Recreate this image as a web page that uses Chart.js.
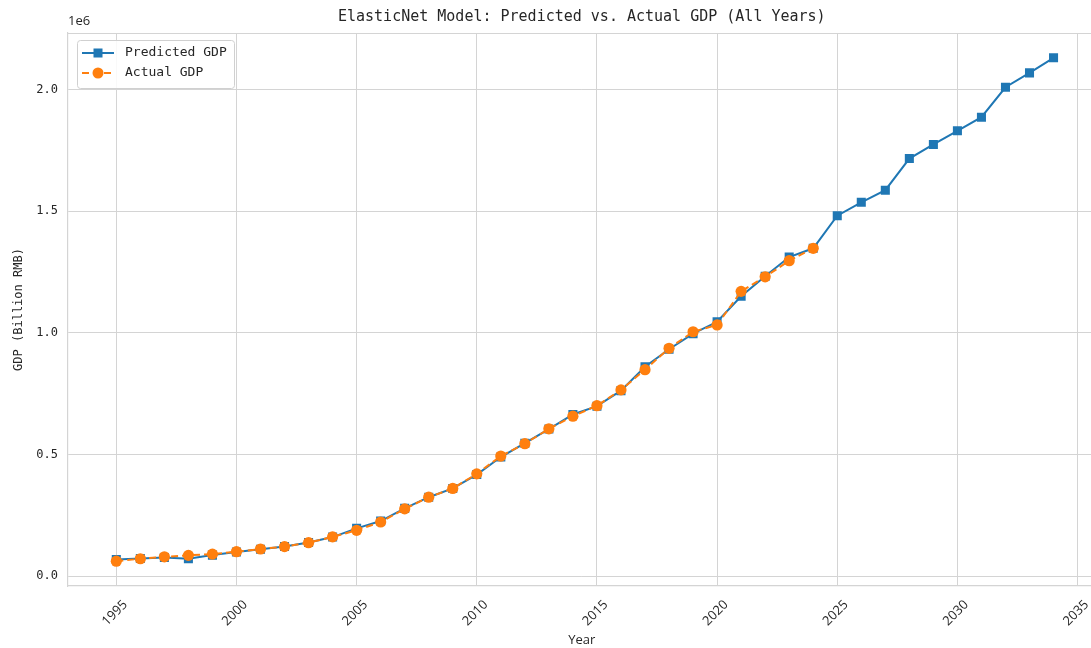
<!DOCTYPE html>
<html>
<head>
<meta charset="utf-8">
<script src="https://cdn.jsdelivr.net/npm/chart.js@4.4.1/dist/chart.umd.min.js"></script>
<style>
  html, body { margin: 0; padding: 0; background: #fff; overflow: hidden; }
  #wrap { width: 1102px; height: 648px; }
</style>
</head>
<body>
<div id="wrap"><canvas id="gdpChart" width="1102" height="648"></canvas></div>
<script>
// ===== DATA =====
const years = [1995, 1996, 1997, 1998, 1999, 2000, 2001, 2002, 2003, 2004,
  2005, 2006, 2007, 2008, 2009, 2010, 2011, 2012, 2013, 2014,
  2015, 2016, 2017, 2018, 2019, 2020, 2021, 2022, 2023, 2024,
  2025, 2026, 2027, 2028, 2029, 2030, 2031, 2032, 2033, 2034];

const predictedGdp = [68000, 72000, 76000, 71000, 86000, 99000, 110000, 121000, 138000, 160000,
  196000, 226000, 278000, 324000, 360000, 417000, 489000, 546000, 604000, 664000,
  698000, 762000, 860000, 932000, 996000, 1045000, 1150000, 1232000, 1311000, 1347000,
  1481000, 1536000, 1586000, 1716000, 1774000, 1830000, 1886000, 2009000, 2068000, 2130000];

const actualGdp = [61000, 71000, 79000, 85000, 90000, 100000, 111000, 121000, 137000, 161000,
  188000, 222000, 276000, 324000, 360000, 420000, 493000, 544000, 605000, 657000,
  700000, 765000, 848000, 936000, 1004000, 1032000, 1170000, 1230000, 1296000, 1347000];

const yTicks = [0, 500000, 1000000, 1500000, 2000000];
const xTicks = [1995, 2000, 2005, 2010, 2015, 2020, 2025, 2030, 2035];

const titleText = 'ElasticNet Model: Predicted vs. Actual GDP (All Years)';
const legendItems = ['Predicted GDP', 'Actual GDP'];

const BLUE = '#1f77b4';
const ORANGE = '#ff7f0e';
const GRID = '#d4d4d4';
const INK = '#262626';
const MONO = '"DejaVu Sans Mono", monospace';
const SANS = '"Open Sans", "DejaVu Sans", sans-serif';

const predictedPts = years.map((y, i) => ({ x: y, y: predictedGdp[i] }));
const actualPts = actualGdp.map((v, i) => ({ x: years[i], y: v }));

// ===== EXTRA DRAWING (title, offset text, frame, legend) =====
function drawMarker(ctx, kind, x, y, color) {
  ctx.fillStyle = color;
  if (kind === 'rect') {
    ctx.fillRect(x - 4.5, y - 4.5, 9, 9);
  } else {
    ctx.beginPath();
    ctx.arc(x, y, 5.5, 0, Math.PI * 2);
    ctx.fill();
  }
}

const decorations = {
  id: 'decorations',
  beforeDatasetsDraw(chart) {
    const { ctx, chartArea } = chart;
    ctx.save();
    ctx.strokeStyle = GRID;
    ctx.lineWidth = 1.2;
    ctx.beginPath();
    ctx.moveTo(chartArea.left, chartArea.top + 0.5);
    ctx.lineTo(chartArea.right, chartArea.top + 0.5);
    ctx.stroke();
    ctx.restore();
  },
  afterDraw(chart) {
    const { ctx, chartArea } = chart;
    ctx.save();

    // title over the plot area
    ctx.fillStyle = INK;
    ctx.font = '15px ' + MONO;
    ctx.textAlign = 'center';
    ctx.textBaseline = 'middle';
    ctx.fillText(titleText, (chartArea.left + chartArea.right) / 2, 17);

    // axis multiplier
    ctx.font = '13px ' + SANS;
    ctx.textAlign = 'left';
    ctx.fillText('1e6', chartArea.left, 21);

    // legend box
    const bx = 77, by = 40, bw = 157, bh = 48;
    ctx.fillStyle = 'rgba(255,255,255,0.85)';
    ctx.strokeStyle = '#d0d0d0';
    ctx.lineWidth = 1;
    ctx.beginPath();
    ctx.roundRect(bx + 0.5, by + 0.5, bw, bh, 3);
    ctx.fill();
    ctx.stroke();

    const rows = [
      { label: legendItems[0], color: BLUE, marker: 'rect', dash: [], y: by + 13 },
      { label: legendItems[1], color: ORANGE, marker: 'circle', dash: [7, 4], y: by + 33 }
    ];
    rows.forEach(r => {
      ctx.strokeStyle = r.color;
      ctx.lineWidth = 2;
      ctx.setLineDash(r.dash);
      ctx.beginPath();
      ctx.moveTo(bx + 5, r.y);
      ctx.lineTo(bx + 37, r.y);
      ctx.stroke();
      ctx.setLineDash([]);
      drawMarker(ctx, r.marker, bx + 21, r.y, r.color);
      ctx.fillStyle = INK;
      ctx.font = '13px ' + MONO;
      ctx.textAlign = 'left';
      ctx.textBaseline = 'middle';
      ctx.fillText(r.label, bx + 48, r.y);
    });
    ctx.restore();
  }
};

// ===== CHART =====
new Chart(document.getElementById('gdpChart'), {
  type: 'line',
  data: {
    datasets: [
      {
        label: legendItems[0],
        data: predictedPts,
        borderColor: BLUE,
        backgroundColor: BLUE,
        borderWidth: 2,
        pointStyle: 'rect',
        pointRadius: 6.4,
        pointBorderWidth: 0,
        pointBackgroundColor: BLUE,
        tension: 0,
        order: 1
      },
      {
        label: legendItems[1],
        data: actualPts,
        borderColor: ORANGE,
        backgroundColor: ORANGE,
        borderWidth: 2,
        borderDash: [7, 4],
        pointStyle: 'circle',
        pointRadius: 5.6,
        pointBorderWidth: 0,
        pointBackgroundColor: ORANGE,
        tension: 0,
        order: 0
      }
    ]
  },
  options: {
    responsive: false,
    animation: false,
    layout: { padding: { top: 33, left: 0, right: 2, bottom: 0 } },
    plugins: {
      legend: { display: false },
      title: { display: false },
      tooltip: { enabled: false }
    },
    scales: {
      x: {
        type: 'linear',
        min: 1992.99,
        max: 2035.75,
        afterFit: s => { s.height = 62; },
        afterBuildTicks: s => { s.ticks = xTicks.map(v => ({ value: v })); },
        grid: { color: GRID, lineWidth: 1, drawTicks: false },
        border: { color: GRID, width: 1.2 },
        ticks: {
          includeBounds: false,
          autoSkip: false,
          minRotation: 45,
          maxRotation: 45,
          padding: 11,
          labelOffset: 9,
          color: INK,
          font: { family: SANS, size: 13 },
          callback: v => String(v)
        },
        title: {
          display: true,
          text: 'Year',
          color: INK,
          font: { family: SANS, size: 13 },
          padding: { top: 0, bottom: 0 }
        }
      },
      y: {
        type: 'linear',
        min: -41000,
        max: 2232000,
        afterFit: s => { s.width = 68; },
        afterBuildTicks: s => { s.ticks = yTicks.map(v => ({ value: v })); },
        grid: { color: GRID, lineWidth: 1, drawTicks: false },
        border: { color: GRID, width: 1.2 },
        ticks: {
          includeBounds: false,
          padding: 10,
          color: INK,
          font: { family: MONO, size: 12 },
          callback: v => (v / 1e6).toFixed(1)
        },
        title: {
          display: true,
          text: 'GDP (Billion RMB)',
          color: INK,
          font: { family: MONO, size: 12 },
          padding: { top: 12, bottom: 0 }
        }
      }
    }
  },
  plugins: [decorations]
});
</script>
</body>
</html>
